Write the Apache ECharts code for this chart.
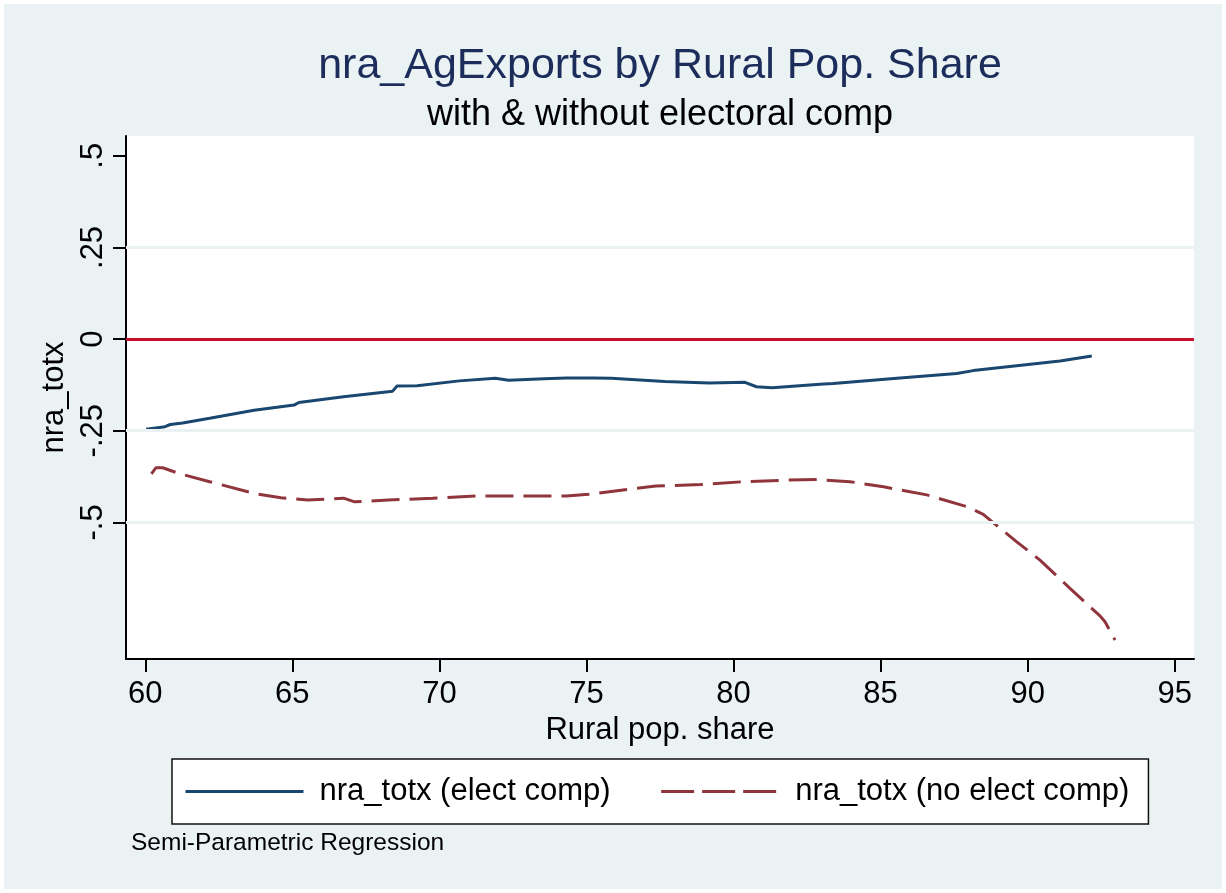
<!DOCTYPE html>
<html>
<head>
<meta charset="utf-8">
<title>nra_AgExports by Rural Pop. Share</title>
<script src="https://cdn.jsdelivr.net/npm/echarts@6/dist/echarts.min.js"></script>
<style>
  html, body { margin: 0; padding: 0; background: #ffffff; }
  #chart { width: 1226px; height: 893px; }
</style>
</head>
<body>
<div id="chart"></div>
<script>
// Semi-parametric fits of nra_totx against rural population share (%)
const electComp = [
  [60.03, -0.246], [60.67, -0.239], [60.85, -0.233], [61.27, -0.229],
  [62.19, -0.216], [63.70, -0.194], [65.06, -0.180], [65.22, -0.173],
  [66.74, -0.157], [68.41, -0.142], [68.56, -0.128], [69.24, -0.127],
  [70.68, -0.114], [71.90, -0.107], [72.35, -0.112], [73.56, -0.108],
  [74.32, -0.106], [75.23, -0.106], [75.84, -0.107], [77.66, -0.116],
  [79.18, -0.120], [80.39, -0.118], [80.78, -0.130], [81.31, -0.133],
  [82.94, -0.123], [83.39, -0.121], [85.66, -0.106], [87.59, -0.094],
  [88.15, -0.086], [91.10, -0.060], [92.18, -0.046]
];

const noElectComp = [
  [60.21, -0.368], [60.36, -0.351], [60.59, -0.351], [61.12, -0.366],
  [62.19, -0.389], [63.70, -0.421], [64.61, -0.433], [65.52, -0.439],
  [66.74, -0.434], [67.12, -0.444], [68.26, -0.439], [69.77, -0.434],
  [71.29, -0.428], [74.32, -0.428], [75.08, -0.423], [77.36, -0.401],
  [78.88, -0.397], [80.34, -0.389], [81.70, -0.385], [82.83, -0.383],
  [83.96, -0.389], [85.10, -0.403], [86.57, -0.425], [87.93, -0.457],
  [88.49, -0.478], [89.06, -0.516], [89.63, -0.553], [90.42, -0.603],
  [91.44, -0.680], [92.46, -0.755], [92.63, -0.771], [92.97, -0.821]
];

const seriesNames = ['nra_totx (elect comp)', 'nra_totx (no elect comp)'];
const xTicks = [60, 65, 70, 75, 80, 85, 90, 95];
const yTicks = [-0.5, -0.25, 0, 0.25, 0.5];
const yTickLabels = ['-.5', '-.25', '0', '.25', '.5'];
const gridValues = [0.25, -0.25, -0.5];
const referenceValue = 0;

const FONT = '"Liberation Sans", Arial, Helvetica, sans-serif';
const BG = '#eaf2f3';
const BLUE = '#1a476f';
const MAROON = '#90353b';

const chart = echarts.init(document.getElementById('chart'), null, { renderer: 'canvas' });

const option = {
  animation: false,
  backgroundColor: '#ffffff',
  textStyle: { fontFamily: FONT },
  graphic: [{
    type: 'rect',
    silent: true,
    z: -10,
    shape: { x: 4, y: 4, width: 1218, height: 885 },
    style: { fill: BG }
  }],
  title: [
    {
      text: 'nra_AgExports by Rural Pop. Share',
      left: 660, top: 45, padding: 0, textAlign: 'center',
      textStyle: { fontFamily: FONT, fontSize: 43, fontWeight: 'normal', color: '#1c2d5c' }
    },
    {
      text: 'with & without electoral comp',
      left: 660, top: 97, padding: 0, textAlign: 'center',
      textStyle: { fontFamily: FONT, fontSize: 36, fontWeight: 'normal', color: '#000000' }
    },
    {
      text: 'Semi-Parametric Regression',
      left: 131, top: 831, padding: 0,
      textStyle: { fontFamily: FONT, fontSize: 24.5, fontWeight: 'normal', color: '#000000' }
    }
  ],
  grid: {
    left: 126, top: 136, width: 1068, height: 523,
    show: true, backgroundColor: '#ffffff', borderWidth: 0,
    containLabel: false
  },
  legend: {
    data: [
      { name: seriesNames[0], lineStyle: { color: BLUE, width: 3, type: 'solid' } },
      { name: seriesNames[1], lineStyle: { color: MAROON, width: 3, type: [33, 8] } }
    ],
    left: 172, top: 759,
    orient: 'horizontal',
    padding: [17, 19, 17, 12],
    itemGap: 49,
    itemWidth: 118,
    itemHeight: 14,
    backgroundColor: '#ffffff',
    borderColor: '#111111',
    borderWidth: 1.5,
    borderRadius: 0,
    selectedMode: false,
    itemStyle: { opacity: 0 },
    textStyle: { fontFamily: FONT, fontSize: 31, color: '#000000', padding: [0, 0, 0, 11] }
  },
  xAxis: {
    type: 'value',
    min: 59.344, max: 95.656,
    name: 'Rural pop. share',
    nameLocation: 'middle',
    nameGap: 49,
    nameTextStyle: { fontFamily: FONT, fontSize: 31, color: '#000000' },
    axisLine: { show: true, onZero: false, lineStyle: { color: '#000000', width: 2 } },
    axisTick: { show: true, customValues: xTicks, length: 13, lineStyle: { color: '#000000', width: 2 } },
    axisLabel: { show: true, customValues: xTicks, margin: 20, fontFamily: FONT, fontSize: 31, color: '#000000' },
    splitLine: { show: false }
  },
  yAxis: {
    type: 'value',
    min: -0.8727, max: 0.554,
    name: 'nra_totx',
    nameLocation: 'middle',
    nameRotate: 90,
    nameGap: 38,
    nameTextStyle: { fontFamily: FONT, fontSize: 31, color: '#000000' },
    axisLine: { show: true, onZero: false, lineStyle: { color: '#000000', width: 2 } },
    axisTick: { show: true, customValues: yTicks, length: 13, lineStyle: { color: '#000000', width: 2 } },
    axisLabel: {
      show: true, customValues: yTicks, rotate: 90, margin: 17,
      fontFamily: FONT, fontSize: 31, color: '#000000',
      formatter: function (v) {
        const i = yTicks.findIndex(function (t) { return Math.abs(t - v) < 1e-9; });
        return i >= 0 ? yTickLabels[i] : '';
      }
    },
    splitLine: { show: false }
  },
  series: [
    {
      name: 'reference lines',
      type: 'line',
      data: [],
      silent: true,
      z: 1,
      markLine: {
        silent: true,
        symbol: 'none',
        animation: false,
        label: { show: false },
        emphasis: { disabled: true },
        data: gridValues.map(function (v) {
          return { yAxis: v, lineStyle: { color: BG, width: 3, type: 'solid' } };
        }).concat([
          { yAxis: referenceValue, lineStyle: { color: '#c8102e', width: 3, type: 'solid' } }
        ])
      }
    },
    {
      name: seriesNames[0],
      type: 'line',
      data: electComp,
      symbol: 'none',
      showSymbol: false,
      smooth: false,
      z: 3,
      lineStyle: { color: BLUE, width: 3 },
      itemStyle: { color: BLUE }
    },
    {
      name: seriesNames[1],
      type: 'line',
      data: noElectComp,
      symbol: 'none',
      showSymbol: false,
      smooth: false,
      z: 3,
      lineStyle: { color: MAROON, width: 3, type: [28, 10] },
      itemStyle: { color: MAROON }
    }
  ]
};

chart.setOption(option);
</script>
</body>
</html>
